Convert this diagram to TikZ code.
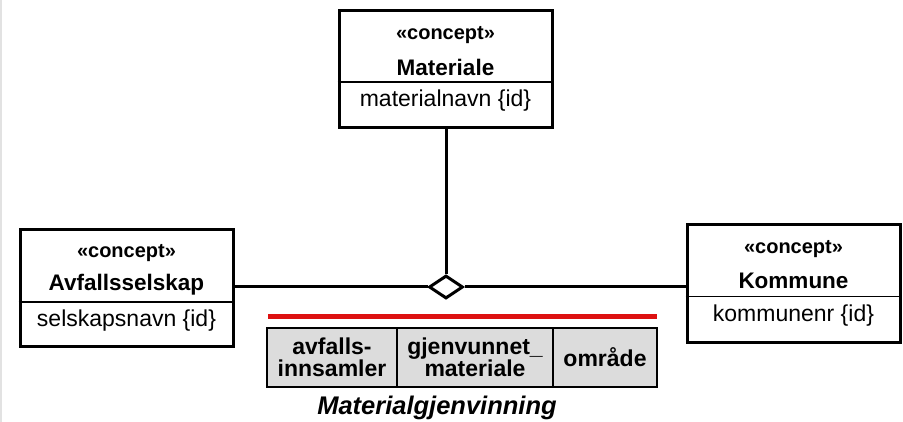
\documentclass[tikz,border=0pt]{standalone}
\usepackage{fontspec}
\setmainfont{Liberation Sans}
\usetikzlibrary{shapes.geometric}
\definecolor{redbar}{HTML}{DD1111}
\definecolor{cellgray}{HTML}{DCDCDC}
\definecolor{edgegray}{HTML}{E2E2E2}
\tikzset{
  classbox/.style={draw=black, line width=3pt, fill=white, minimum width=213pt, minimum height=117pt, inner sep=0pt},
  stereo/.style={font=\fontsize{20}{22}\selectfont\bfseries, inner sep=0pt},
  cname/.style={font=\fontsize{22.5}{26}\selectfont\bfseries, inner sep=0pt},
  attr/.style={font=\fontsize{23}{26}\selectfont, inner sep=0pt},
  divider/.style={line width=1.5pt},
  conn/.style={line width=3pt},
  aggr/.style={diamond, draw=black, line width=3pt, fill=white, minimum width=34pt, minimum height=23pt, inner sep=0pt, aspect=1.5},
  cell/.style={draw=black, line width=2.5pt, fill=cellgray, minimum height=59pt, inner sep=0pt, align=center, font=\fontsize{23}{22}\selectfont\bfseries},
  caption/.style={font=\fontsize{25.5}{28}\selectfont\bfseries\itshape, inner sep=0pt}
}
\begin{document}
\begin{tikzpicture}[x=1pt,y=-1pt]
\useasboundingbox (0,0) rectangle (903,422);
\draw[edgegray, line width=2pt] (1,0) -- (1,422);

% Materiale
\node[classbox] (mat) at (445.5,69) {};
\node[stereo] (matS) at (445.5,35) {«concept»};
\node[cname] (matN) at (445.5,67) {Materiale};
\node[attr] (matA) at (445.5,101) {materialnavn \{id\}};
\draw[divider] ([yshift=-73pt]mat.north west) -- ([yshift=-73pt]mat.north east);

% Avfallsselskap
\node[classbox] (avf) at (126.5,288) {};
\node[stereo] (avfS) at (126.5,253) {«concept»};
\node[cname] (avfN) at (126.5,285) {Avfallsselskap};
\node[attr] (avfA) at (126.5,321) {selskapsnavn \{id\}};
\draw[divider] ([yshift=-74pt]avf.north west) -- ([yshift=-74pt]avf.north east);

% Kommune
\node[classbox] (kom) at (793.5,283.5) {};
\node[stereo] (komS) at (793.5,249) {«concept»};
\node[cname] (komN) at (793.5,281) {Kommune};
\node[attr] (komA) at (793.5,316) {kommunenr \{id\}};
\draw[divider] ([yshift=-73pt]kom.north west) -- ([yshift=-73pt]kom.north east);

% Aggregation diamond
\node[aggr] (dia) at (446,287) {};
\draw[conn] (avf.east |- dia.west) -- (dia.west);
\draw[conn] (dia.east) -- (kom.west |- dia.east);
\draw[conn] (mat.south -| dia.north) -- (dia.north);

% Red bar and table
\node[fill=redbar, minimum width=389pt, minimum height=5pt, inner sep=0pt] (bar) at (462.5,317) {};
\node[cell, minimum width=130pt] (c1) at (332,357.5) {avfalls-\\innsamler};
\node[cell, minimum width=156pt] (c2) at (475,357.5) {gjenvunnet\_\\materiale};
\node[cell, minimum width=104pt] (c3) at (605,357.5) {område};
\node[caption] (cap) at (437,408) {Materialgjenvinning};
\end{tikzpicture}
\end{document}
